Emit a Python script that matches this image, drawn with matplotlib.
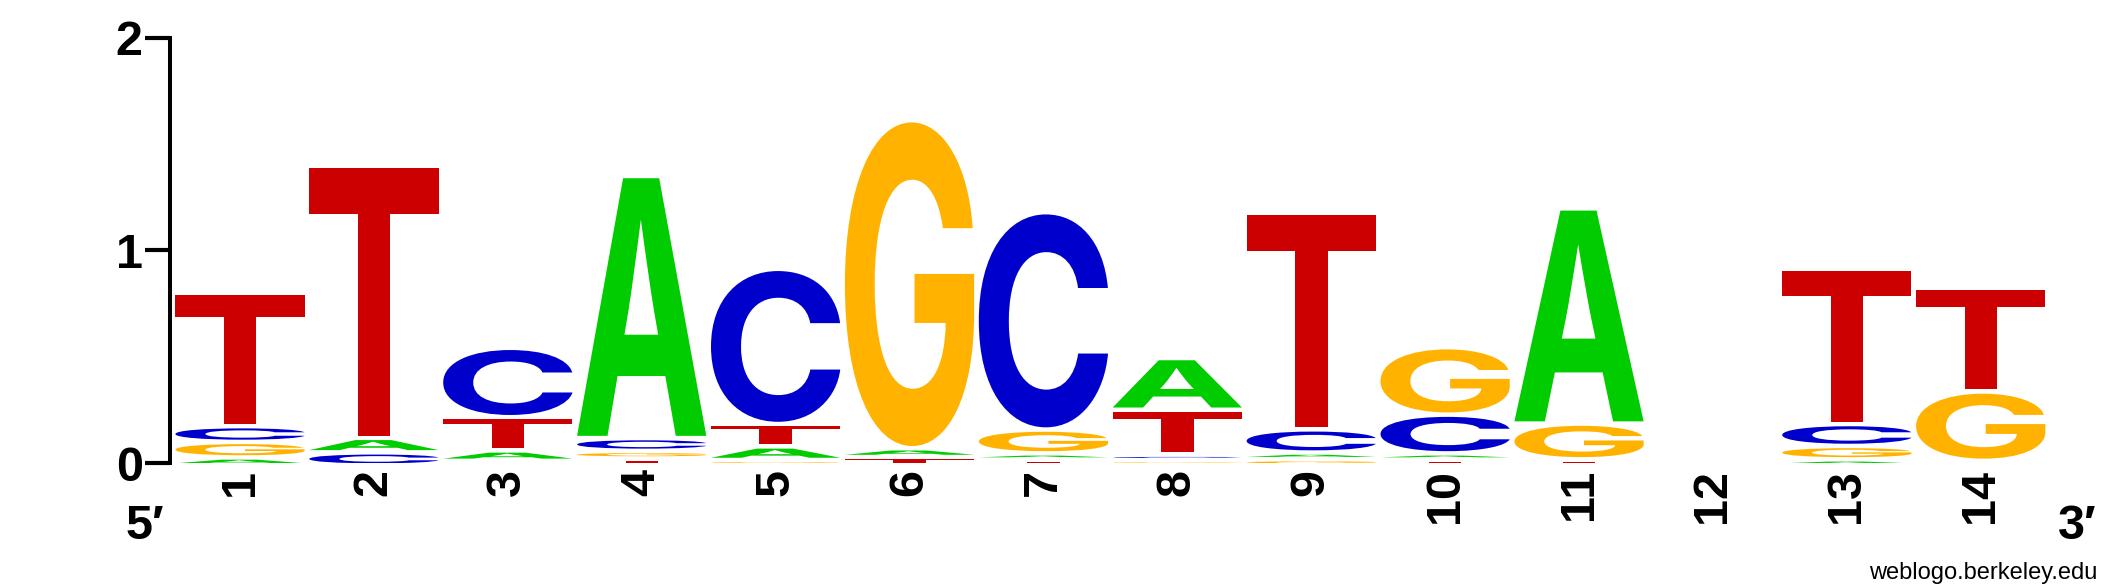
import matplotlib
matplotlib.use('Agg')
import matplotlib.pyplot as plt
from matplotlib.textpath import TextPath
from matplotlib.font_manager import FontProperties
from matplotlib.patches import PathPatch
from matplotlib.transforms import Affine2D

# information content (bits) per base at each position
positions = list(range(1, 15))
A = [0.017, 0.047, 0.028, 1.210, 0.043, 0.020, 0.008, 0.222, 0.010, 0.008, 0.990, 0, 0.008, 0.001]
C = [0.053, 0.041, 0.305, 0.039, 0.708, 0, 1.000, 0.005, 0.088, 0.161, 0, 0, 0.082, 0]
G = [0.052, 0, 0.001, 0.015, 0.005, 1.520, 0.091, 0.004, 0.009, 0.296, 0.147, 0, 0.042, 0.305]
T = [0.604, 1.255, 0.135, 0.012, 0.084, 0.019, 0.007, 0.190, 0.995, 0.007, 0.008, 0, 0.709, 0.467]

colors = {'A': '#00CC00', 'C': '#0000CC', 'G': '#FFB300', 'T': '#CC0000'}
gap = 0.021      # vertical space between stacked letters
lw_col = 0.965   # letter width in position units

W, H = 2125, 588
fig = plt.figure(figsize=(W / 100, H / 100), dpi=100)
ax = fig.add_axes([170 / W, 124.7 / H, 1877.7 / W, 425.8 / H])
ax.set_xlim(1 - 70 / 133.9, 14.5)
ax.set_ylim(0, 2)

fp = FontProperties(family='Inter', weight='bold')


def draw_letter(ch, x0, y0, w, h):
    tp = TextPath((0, 0), ch, size=1, prop=fp)
    bb = tp.get_extents()
    tr = (Affine2D().translate(-bb.x0, -bb.y0)
          .scale(w / bb.width, h / bb.height).translate(x0, y0))
    ax.add_patch(PathPatch(tr.transform_path(tp), facecolor=colors[ch], lw=0))


for i, p in enumerate(positions):
    stack = [('A', A[i]), ('C', C[i]), ('G', G[i]), ('T', T[i])]
    stack = [s for s in stack if s[1] > 0]
    stack.sort(key=lambda s: s[1])
    y = 0.0
    for ch, h in stack:
        if h >= 0.002:
            draw_letter(ch, p - lw_col / 2, y, lw_col, h)
        y += h + gap

for s in ['top', 'right', 'bottom']:
    ax.spines[s].set_visible(False)
ax.spines['left'].set_linewidth(2.9)
ax.spines['left'].set_bounds(0, 2)

lab_font = dict(family=['Liberation Sans', 'DejaVu Sans'], weight='bold', size=35)
ax.set_yticks([0, 1, 2])
ax.set_yticklabels(['0', '1', '2'], **lab_font)
ax.tick_params(axis='y', length=18, width=3, pad=1.7)
ax.set_xticks(positions)
ax.set_xticklabels([str(p) for p in positions], rotation=90, **lab_font)
ax.tick_params(axis='x', length=0, pad=4)

fig.text(164 / W, 1 - 539 / H, '5\u2032', ha='right', va='baseline', **lab_font)
fig.text(2058 / W, 1 - 539 / H, '3\u2032', ha='left', va='baseline', **lab_font)
fig.text(2097 / W, 1 - 579 / H, 'weblogo.berkeley.edu', ha='right', va='baseline',
         family=['Liberation Sans', 'DejaVu Sans'], size=17)

fig.savefig('out.png', dpi=100)
